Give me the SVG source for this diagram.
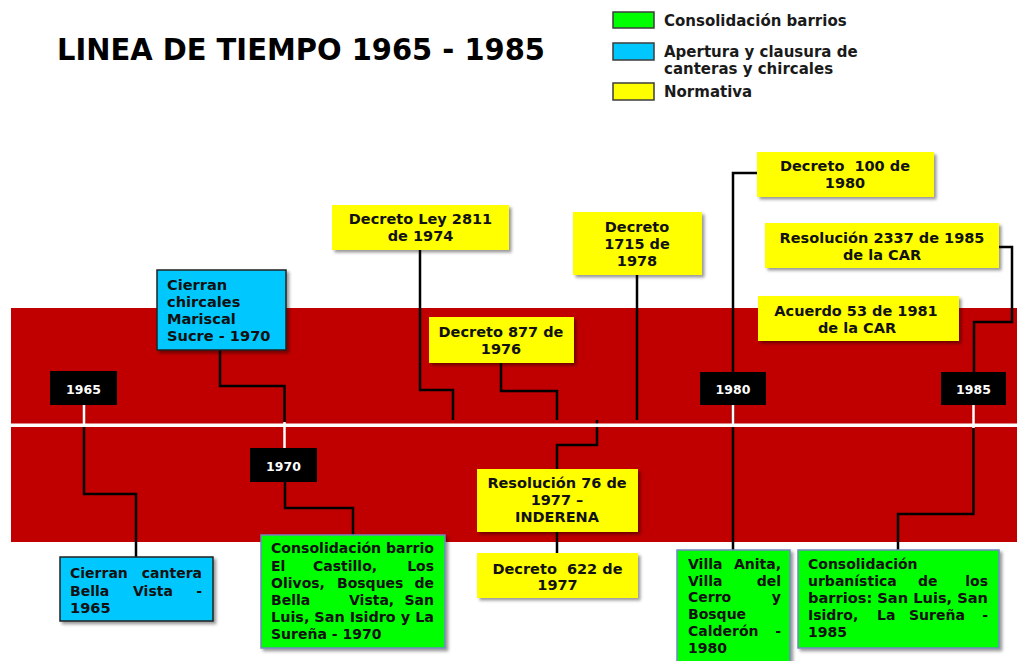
<svg xmlns="http://www.w3.org/2000/svg" width="1017" height="661" viewBox="0 0 1017 661">
<defs>
<filter id="sh" x="-10%" y="-10%" width="130%" height="140%">
<feDropShadow dx="2.5" dy="2.5" stdDeviation="1.5" flood-color="#000" flood-opacity="0.4"/>
</filter>
<style>
text{font-family:"DejaVu Sans","Verdana",sans-serif;font-weight:bold;fill:#111}
.t{font-size:14px}
.t2{font-size:14.6px}
.y{font-size:14.5px;text-anchor:middle}
.e{text-anchor:end}
.lg{font-size:15px;fill:#1a1a1a}
.yr{font-size:12.5px;fill:#fff;text-anchor:middle}
.yel{fill:#ffff00;filter:url(#sh)}
.grn{fill:#00ff00;stroke:#7088c0;stroke-width:1.5;filter:url(#sh)}
.blu{fill:#00c8ff;stroke:#222;stroke-width:1.5;filter:url(#sh)}
.sw{stroke:#3c3c3c;stroke-width:1.5}
.c{fill:none;stroke:#000;stroke-width:2.5}
.w{stroke:#fff;stroke-width:2.5}
</style>
</defs>
<rect width="1017" height="661" fill="#fff"/>

<text x="57" y="60" font-size="30" textLength="488" lengthAdjust="spacingAndGlyphs" style="fill:#000">LINEA DE TIEMPO 1965  - 1985</text>

<g id="legend">
<rect class="sw" x="613" y="12" width="41" height="16" fill="#00ff00"/>
<text class="lg" x="664" y="25.5">Consolidación barrios</text>
<rect class="sw" x="613" y="43" width="41" height="17" fill="#00c8ff"/>
<text class="lg" x="664" y="57">Apertura y clausura de</text>
<text class="lg" x="664" y="74">canteras y chircales</text>
<rect class="sw" x="613" y="83" width="41" height="17" fill="#ffff00"/>
<text class="lg" x="664" y="97">Normativa</text>
</g>

<rect id="band" x="11" y="308" width="1006" height="234" fill="#c00000"/>

<g id="connectors">
<path class="c" d="M84,427 V494 H136 V557"/>
<path class="c" d="M220,350 V386 H284.5 V423"/>
<path class="c" d="M285,482 V508 H353 V535"/>
<path class="c" d="M420,250 V390 H453 V420"/>
<path class="c" d="M501,363 V391 H557 V420"/>
<path class="c" d="M637,275 V420"/>
<path class="c" d="M597,420 V445 H557 V469"/>
<path class="c" d="M557,532 V553"/>
<path class="c" d="M757,173 H733 V550"/>
<path class="c" d="M999,247 H1012 V322 H974 V372"/>
<path class="c" d="M973.5,428 V514 H898 V550"/>
</g>

<rect id="axis" x="11" y="423.5" width="1006" height="3.5" fill="#fff"/>
<g id="ticks">
<line class="w" x1="84" y1="405" x2="84" y2="425"/>
<line class="w" x1="284.5" y1="422" x2="284.5" y2="448"/>
<line class="w" x1="733" y1="405" x2="733" y2="425"/>
<line class="w" x1="973.5" y1="405" x2="973.5" y2="428"/>
</g>

<g id="y1965"><rect x="50" y="371" width="67" height="34" fill="#000"/><text class="yr" x="83.5" y="394">1965</text></g>
<g id="y1970"><rect x="250" y="448" width="67" height="34" fill="#000"/><text class="yr" x="283.5" y="471">1970</text></g>
<g id="y1980"><rect x="700" y="372" width="66" height="33" fill="#000"/><text class="yr" x="733" y="394">1980</text></g>
<g id="y1985"><rect x="941" y="372" width="65" height="33" fill="#000"/><text class="yr" x="973.5" y="394">1985</text></g>

<g id="chircales">
<rect class="blu" x="157" y="270" width="129" height="80"/>
<text class="t2" x="167" y="290">Cierran</text>
<text class="t2" x="167" y="307">chircales</text>
<text class="t2" x="167" y="324">Mariscal</text>
<text class="t2" x="167" y="341">Sucre - 1970</text>
</g>

<g id="bellavista">
<rect class="blu" x="60" y="557" width="153" height="64"/>
<text class="t" x="70" y="578">Cierran</text><text class="t e" x="202" y="578">cantera</text>
<text class="t" x="70" y="596">Bella</text><text class="t" x="133" y="596">Vista</text><text class="t e" x="202" y="596">-</text>
<text class="t2" x="70" y="613">1965</text>
</g>

<g id="castillo">
<rect class="grn" x="261" y="535" width="184" height="113"/>
<text class="t" x="271" y="553" textLength="163" lengthAdjust="spacingAndGlyphs">Consolidación barrio</text>
<text class="t" x="271" y="571">El</text><text class="t" x="313" y="571">Castillo,</text><text class="t e" x="434" y="571">Los</text>
<text class="t" x="271" y="588">Olivos,</text><text class="t" x="337" y="588">Bosques</text><text class="t e" x="434" y="588">de</text>
<text class="t" x="271" y="605">Bella</text><text class="t" x="349" y="605">Vista,</text><text class="t e" x="434" y="605">San</text>
<text class="t" x="271" y="622" textLength="163" lengthAdjust="spacingAndGlyphs">Luis, San Isidro y La</text>
<text class="t" x="271" y="639">Sureña - 1970</text>
</g>

<g id="ley2811">
<rect class="yel" x="332" y="205" width="177" height="45"/>
<text class="y" x="420.5" y="224">Decreto Ley 2811</text>
<text class="y" x="420.5" y="241">de 1974</text>
</g>

<g id="d877">
<rect class="yel" x="429" y="317" width="145" height="46"/>
<text class="y" x="501" y="337">Decreto 877 de</text>
<text class="y" x="501" y="354">1976</text>
</g>

<g id="d1715">
<rect class="yel" x="573" y="212" width="129" height="63"/>
<text class="y" x="637" y="232">Decreto</text>
<text class="y" x="637" y="249">1715 de</text>
<text class="y" x="637" y="266">1978</text>
</g>

<g id="r76">
<rect class="yel" x="477" y="469" width="161" height="63"/>
<text class="y" x="557" y="488">Resolución 76 de</text>
<text class="y" x="557" y="505">1977 –</text>
<text class="y" x="557" y="522">INDERENA</text>
</g>

<g id="d622">
<rect class="yel" x="477" y="553" width="161" height="45"/>
<text class="y" x="557.5" y="574" xml:space="preserve">Decreto  622 de</text>
<text class="y" x="557.5" y="590">1977</text>
</g>

<g id="d100">
<rect class="yel" x="757" y="152" width="177" height="45"/>
<text class="y" x="845" y="171" xml:space="preserve">Decreto  100 de</text>
<text class="y" x="845" y="188">1980</text>
</g>

<g id="r2337">
<rect class="yel" x="765" y="223" width="234" height="45"/>
<text class="y" x="882" y="243">Resolución 2337 de 1985</text>
<text class="y" x="882" y="260">de la CAR</text>
</g>

<g id="a53">
<rect class="yel" x="758" y="296" width="201" height="45"/>
<text class="y" x="856" y="316">Acuerdo 53 de 1981</text>
<text class="y" x="857" y="333">de la CAR</text>
</g>

<g id="villaanita">
<rect class="grn" x="677" y="550" width="113" height="120"/>
<text class="t" x="688" y="569">Villa</text><text class="t e" x="781" y="569">Anita,</text>
<text class="t" x="688" y="586">Villa</text><text class="t e" x="781" y="586">del</text>
<text class="t" x="688" y="602">Cerro</text><text class="t e" x="781" y="602">y</text>
<text class="t" x="688" y="619">Bosque</text>
<text class="t" x="688" y="636">Calderón</text><text class="t e" x="781" y="636">-</text>
<text class="t" x="688" y="653">1980</text>
</g>

<g id="urbanistica">
<rect class="grn" x="798" y="550" width="201" height="98"/>
<text class="t" x="808" y="569">Consolidación</text>
<text class="t" x="808" y="586">urbanística</text><text class="t" x="918" y="586">de</text><text class="t e" x="988" y="586">los</text>
<text class="t" x="808" y="603" textLength="180" lengthAdjust="spacingAndGlyphs">barrios: San Luis, San</text>
<text class="t" x="808" y="620">Isidro,</text><text class="t" x="877" y="620">La</text><text class="t" x="909" y="620">Sureña</text><text class="t e" x="988" y="620">-</text>
<text class="t" x="808" y="637">1985</text>
</g>
</svg>
